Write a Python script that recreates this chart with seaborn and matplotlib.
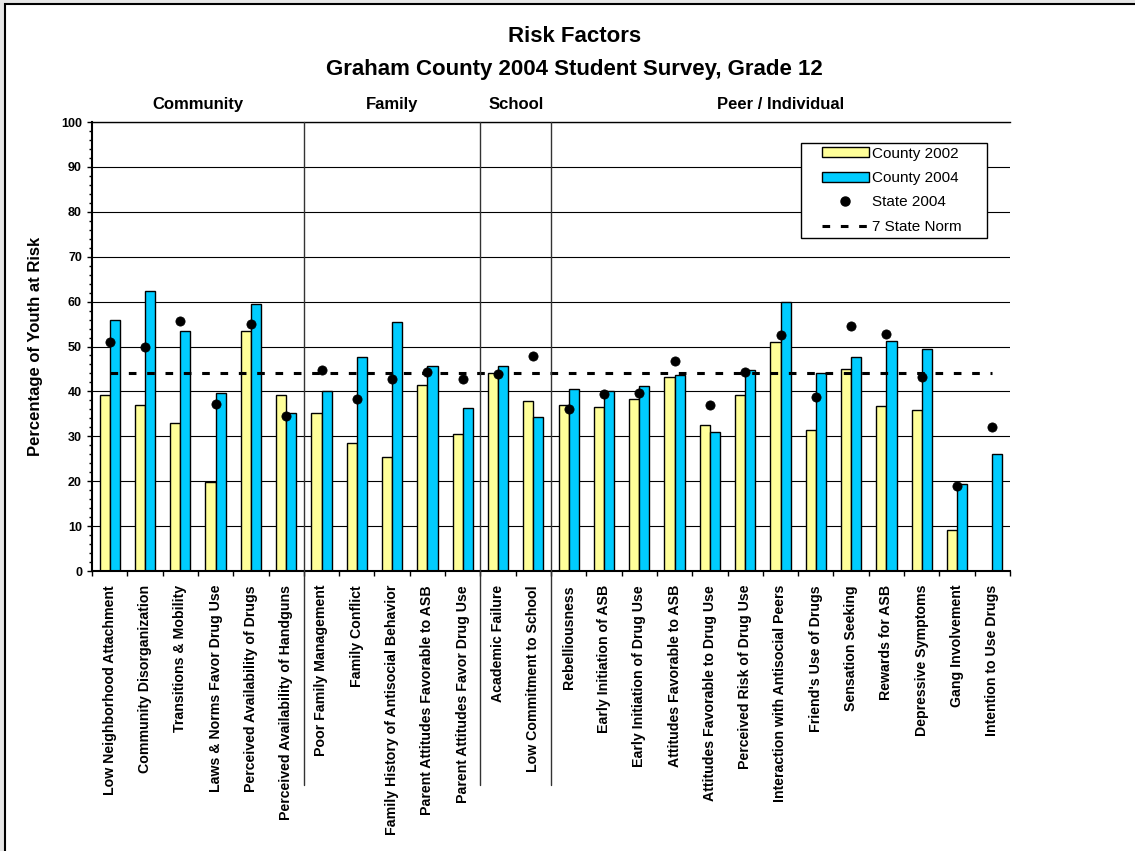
import numpy as np
import pandas as pd
import matplotlib
matplotlib.use("Agg")
import matplotlib.pyplot as plt
import matplotlib.transforms as mtransforms
from matplotlib.patches import Patch, Rectangle
from matplotlib.lines import Line2D
from matplotlib.ticker import MultipleLocator, FixedLocator
import seaborn as sns

# risk factor data
factors = [
    "Low Neighborhood Attachment", "Community Disorganization", "Transitions & Mobility",
    "Laws & Norms Favor Drug Use", "Perceived Availability of Drugs",
    "Perceived Availability of Handguns",
    "Poor Family Management", "Family Conflict", "Family History of Antisocial Behavior",
    "Parent Attitudes Favorable to ASB", "Parent Attitudes Favor Drug Use",
    "Academic Failure", "Low Commitment to School",
    "Rebelliousness", "Early Initiation of ASB", "Early Initiation of Drug Use",
    "Attitudes Favorable to ASB", "Attitudes Favorable to Drug Use",
    "Perceived Risk of Drug Use", "Interaction with Antisocial Peers",
    "Friend's Use of Drugs", "Sensation Seeking", "Rewards for ASB",
    "Depressive Symptoms", "Gang Involvement", "Intention to Use Drugs",
]
groups = ["Community", "Family", "School", "Peer / Individual"]
group_sizes = [6, 5, 2, 13]

county_2002 = [39.2, 36.9, 33.0, 19.8, 53.5, 39.2,
               35.2, 28.6, 25.3, 41.5, 30.6,
               44.1, 37.9,
               37.0, 36.6, 38.3, 43.2, 32.6, 39.2, 50.9, 31.4, 45.0, 36.8, 35.8, 9.2, np.nan]
county_2004 = [55.9, 62.3, 53.4, 39.6, 59.4, 35.3,
               40.0, 47.7, 55.5, 45.7, 36.3,
               45.6, 34.4,
               40.6, 40.2, 41.1, 43.6, 31.0, 44.8, 59.9, 44.1, 47.7, 51.2, 49.4, 19.4, 26.1]
state_2004 = [50.9, 50.0, 55.6, 37.1, 55.0, 34.5,
              44.8, 38.2, 42.8, 44.3, 42.8,
              43.8, 47.9,
              36.0, 39.4, 39.7, 46.8, 36.9, 44.3, 52.6, 38.8, 54.5, 52.7, 43.3, 18.9, 32.1]
state_norm = 44.0

yellow = "#FFFF99"
blue = "#00CCFF"

sns.set_style("white")
plt.rcParams["font.family"] = ["Liberation Sans", "DejaVu Sans"]
plt.rcParams["text.color"] = "black"
plt.rcParams["axes.labelcolor"] = "black"
plt.rcParams["xtick.color"] = "black"
plt.rcParams["ytick.color"] = "black"

n = len(factors)
df = pd.DataFrame({
    "factor": factors * 2,
    "series": ["County 2002"] * n + ["County 2004"] * n,
    "value": county_2002 + county_2004,
})

fig = plt.figure(figsize=(11.35, 8.51), dpi=100)
fig.patch.set_facecolor("#e6e6e6")
# white chart frame
fig.add_artist(Rectangle((5 / 1135, -0.1), 1.2, 1.1 - 4 / 851, transform=fig.transFigure,
                         facecolor="white", edgecolor="black", linewidth=1.5, zorder=-1))

ax = fig.add_axes([92 / 1135, 1 - 571 / 851, 918 / 1135, 449 / 851])

sns.barplot(data=df, x="factor", y="value", hue="series", order=factors,
            palette=[yellow, blue], saturation=1, edgecolor="black", linewidth=1,
            width=0.575, gap=0, legend=False, ax=ax, zorder=2)

pos = np.arange(n)
sns.scatterplot(x=pos, y=state_2004, color="black", edgecolor="black", s=44,
                ax=ax, zorder=4, legend=False)
ax.plot(pos, np.full(n, state_norm), color="black", lw=2.2, dashes=(2.5, 3.5), zorder=3)

ax.set_xlim(-0.5, n - 0.5)
ax.set_ylim(0, 100)
ax.yaxis.set_major_locator(MultipleLocator(10))
ax.yaxis.set_minor_locator(MultipleLocator(2))
ax.xaxis.set_minor_locator(FixedLocator(np.arange(-0.5, n, 1)))
ax.set_axisbelow(True)
ax.grid(axis="y", color="black", lw=0.8)

ax.tick_params(axis="x", which="major", length=0, pad=10)
ax.tick_params(axis="x", which="minor", length=3.6, width=1, direction="out", bottom=True)
ax.tick_params(axis="y", which="major", length=3.6, width=1, direction="out", left=True, pad=3.6)
ax.tick_params(axis="y", which="minor", length=2.4, width=1, direction="out", left=True)
ax.set_xticks(pos)
ax.set_xticklabels(factors, rotation=90, fontsize=10.2, fontweight="bold", va="top")
for lab in ax.get_yticklabels():
    lab.set_fontsize(9)
    lab.set_fontweight("bold")

for side in ["left", "bottom"]:
    ax.spines[side].set_color("black")
    ax.spines[side].set_linewidth(1.5)
ax.spines["right"].set_visible(False)
ax.spines["top"].set_linewidth(1)
ax.spines["top"].set_color("black")

ax.set_xlabel("")
ax.set_ylabel("Percentage of Youth at Risk", fontsize=12, fontweight="bold")
ax.yaxis.set_label_coords(-(92 - 43) / 918, 0.5)

# domain separators and headings
trans = mtransforms.blended_transform_factory(ax.transData, ax.transAxes)
edges = np.cumsum(group_sizes)
starts = np.concatenate([[0], edges[:-1]])
for e in edges[:-1]:
    ax.plot([e - 0.5, e - 0.5], [1, -0.477], transform=trans, color="#333333",
            lw=1, clip_on=False, zorder=5)
for g, s, e in zip(groups, starts, edges):
    ax.text((s + e - 1) / 2, 1.04, g, transform=trans, ha="center", va="center",
            fontsize=12, fontweight="bold")

fig.text(0.506, 1 - 36 / 851, "Risk Factors", ha="center", va="center",
         fontsize=16, fontweight="bold")
fig.text(0.506, 1 - 70 / 851, "Graham County 2004 Student Survey, Grade 12",
         ha="center", va="center", fontsize=16, fontweight="bold")

# legend box
ax.add_patch(Rectangle((0.7723, 0.7416), 0.975 - 0.7723, 0.9532 - 0.7416, transform=ax.transAxes,
                       facecolor="white", edgecolor="black", linewidth=1, zorder=6))
handles = [
    Patch(facecolor=yellow, edgecolor="black", linewidth=1),
    Patch(facecolor=blue, edgecolor="black", linewidth=1),
    Line2D([], [], marker="o", color="black", ls="none", markersize=6.5),
    Line2D([], [], color="black", lw=2.2, dashes=(2.5, 3.5)),
]
labels = ["County 2002", "County 2004", "State 2004", "7 State Norm"]
leg = ax.legend(handles, labels, loc="upper left", bbox_to_anchor=(0.795, 0.945),
                frameon=False, fontsize=11, handlelength=3.1, handleheight=0.6,
                labelspacing=0.68, borderpad=0, handletextpad=0.2, borderaxespad=0)
leg.set_zorder(7)

fig.savefig("out.png", dpi=100, facecolor=fig.get_facecolor())
